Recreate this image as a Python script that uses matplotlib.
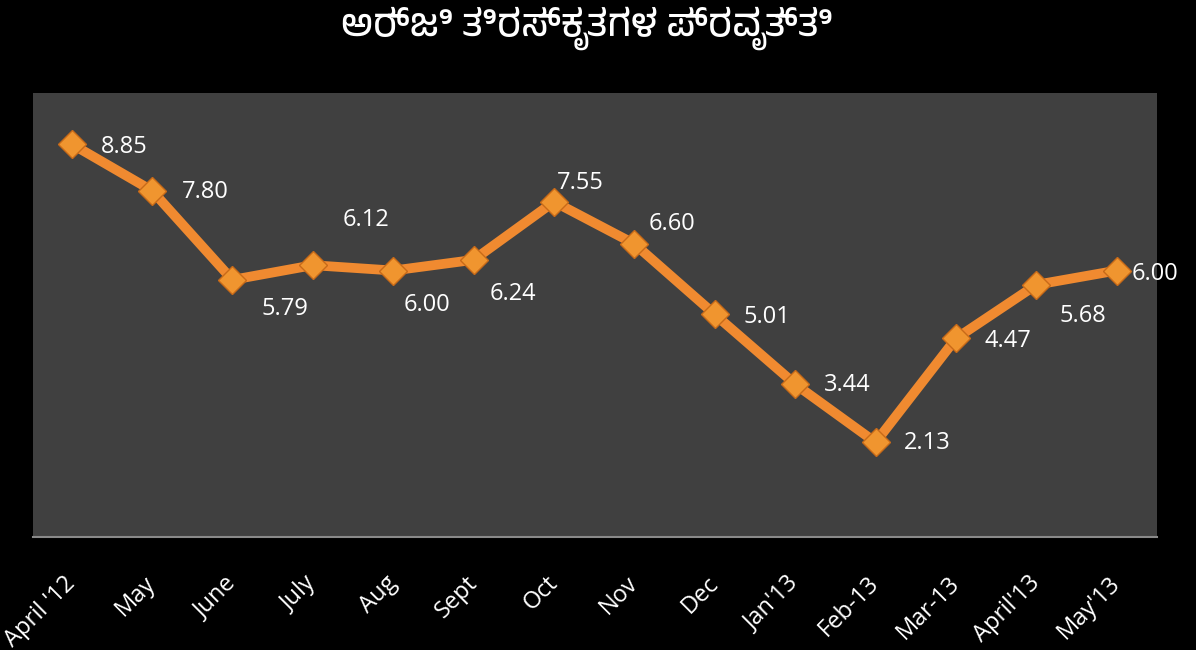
import matplotlib
matplotlib.use("Agg")
import matplotlib.pyplot as plt
from matplotlib import font_manager

#===== DATA =====#
months = ["April '12", "May", "June", "July", "Aug", "Sept", "Oct", "Nov",
          "Dec", "Jan'13", "Feb-13", "Mar-13", "April'13", "May'13"]
values = [8.85, 7.80, 5.79, 6.12, 6.00, 6.24, 7.55, 6.60,
          5.01, 3.44, 2.13, 4.47, 5.68, 6.00]
title = "ಅರ್ಜಿ ತಿರಸ್ಕೃತಗಳ ಪ್ರವೃತ್ತಿ"

# where each data label sits relative to its point (pixels, y up)
offsets = [(53, -3), (53, -1), (53, -29), (53, 45), (34, -34), (39, -34), (26, 19),
           (38, 20), (52, -3), (52, -1), (52, -1), (52, -3), (46, -31), (38, -3)]

#===== FONTS =====#
kannada = [f.name for f in font_manager.fontManager.ttflist
           if "kannada" in f.name.lower() or "kannada" in f.fname.lower()]
title_family = kannada[:1] + ["Noto Sans", "DejaVu Sans"]
label_family = ["Open Sans", "DejaVu Sans"]

#===== FIGURE =====#
fig = plt.figure(figsize=(11.96, 6.5), dpi=100, facecolor="black")
ax = fig.add_axes([0.0276, 0.174, 0.9398, 0.683])
ax.set_facecolor("#404040")

x = list(range(len(months)))
ax.plot(x, values, color="#f08a30", lw=7, solid_joinstyle="round", zorder=2)
ax.plot(x, values, ls="none", marker="D", ms=14, mfc="#f0952f",
        mec="#c86a18", mew=1.0, zorder=3)

for i, v in enumerate(values):
    ax.annotate("{:.2f}".format(v), (i, v), xytext=offsets[i], textcoords="offset pixels",
                color="white", fontsize=17, family=label_family,
                ha="center", va="center")

ax.set_xlim(-0.48, 13.5)
ax.set_ylim(0, 10)
ax.set_yticks([])
ax.set_xticks(x)
ax.set_xticklabels(months, rotation=45, ha="right", va="center", rotation_mode="anchor",
                   color="white", fontsize=17, family=label_family)
ax.tick_params(axis="x", length=0, pad=31)
for s in ["top", "left", "right"]:
    ax.spines[s].set_visible(False)
ax.spines["bottom"].set_color("#8a8a8a")
ax.spines["bottom"].set_linewidth(1.5)

fig.text(0.491, 0.957, title, ha="center", va="center", color="white",
         fontsize=27, fontweight="bold", family=title_family)

fig.savefig("out.png", dpi=100, facecolor="black")
